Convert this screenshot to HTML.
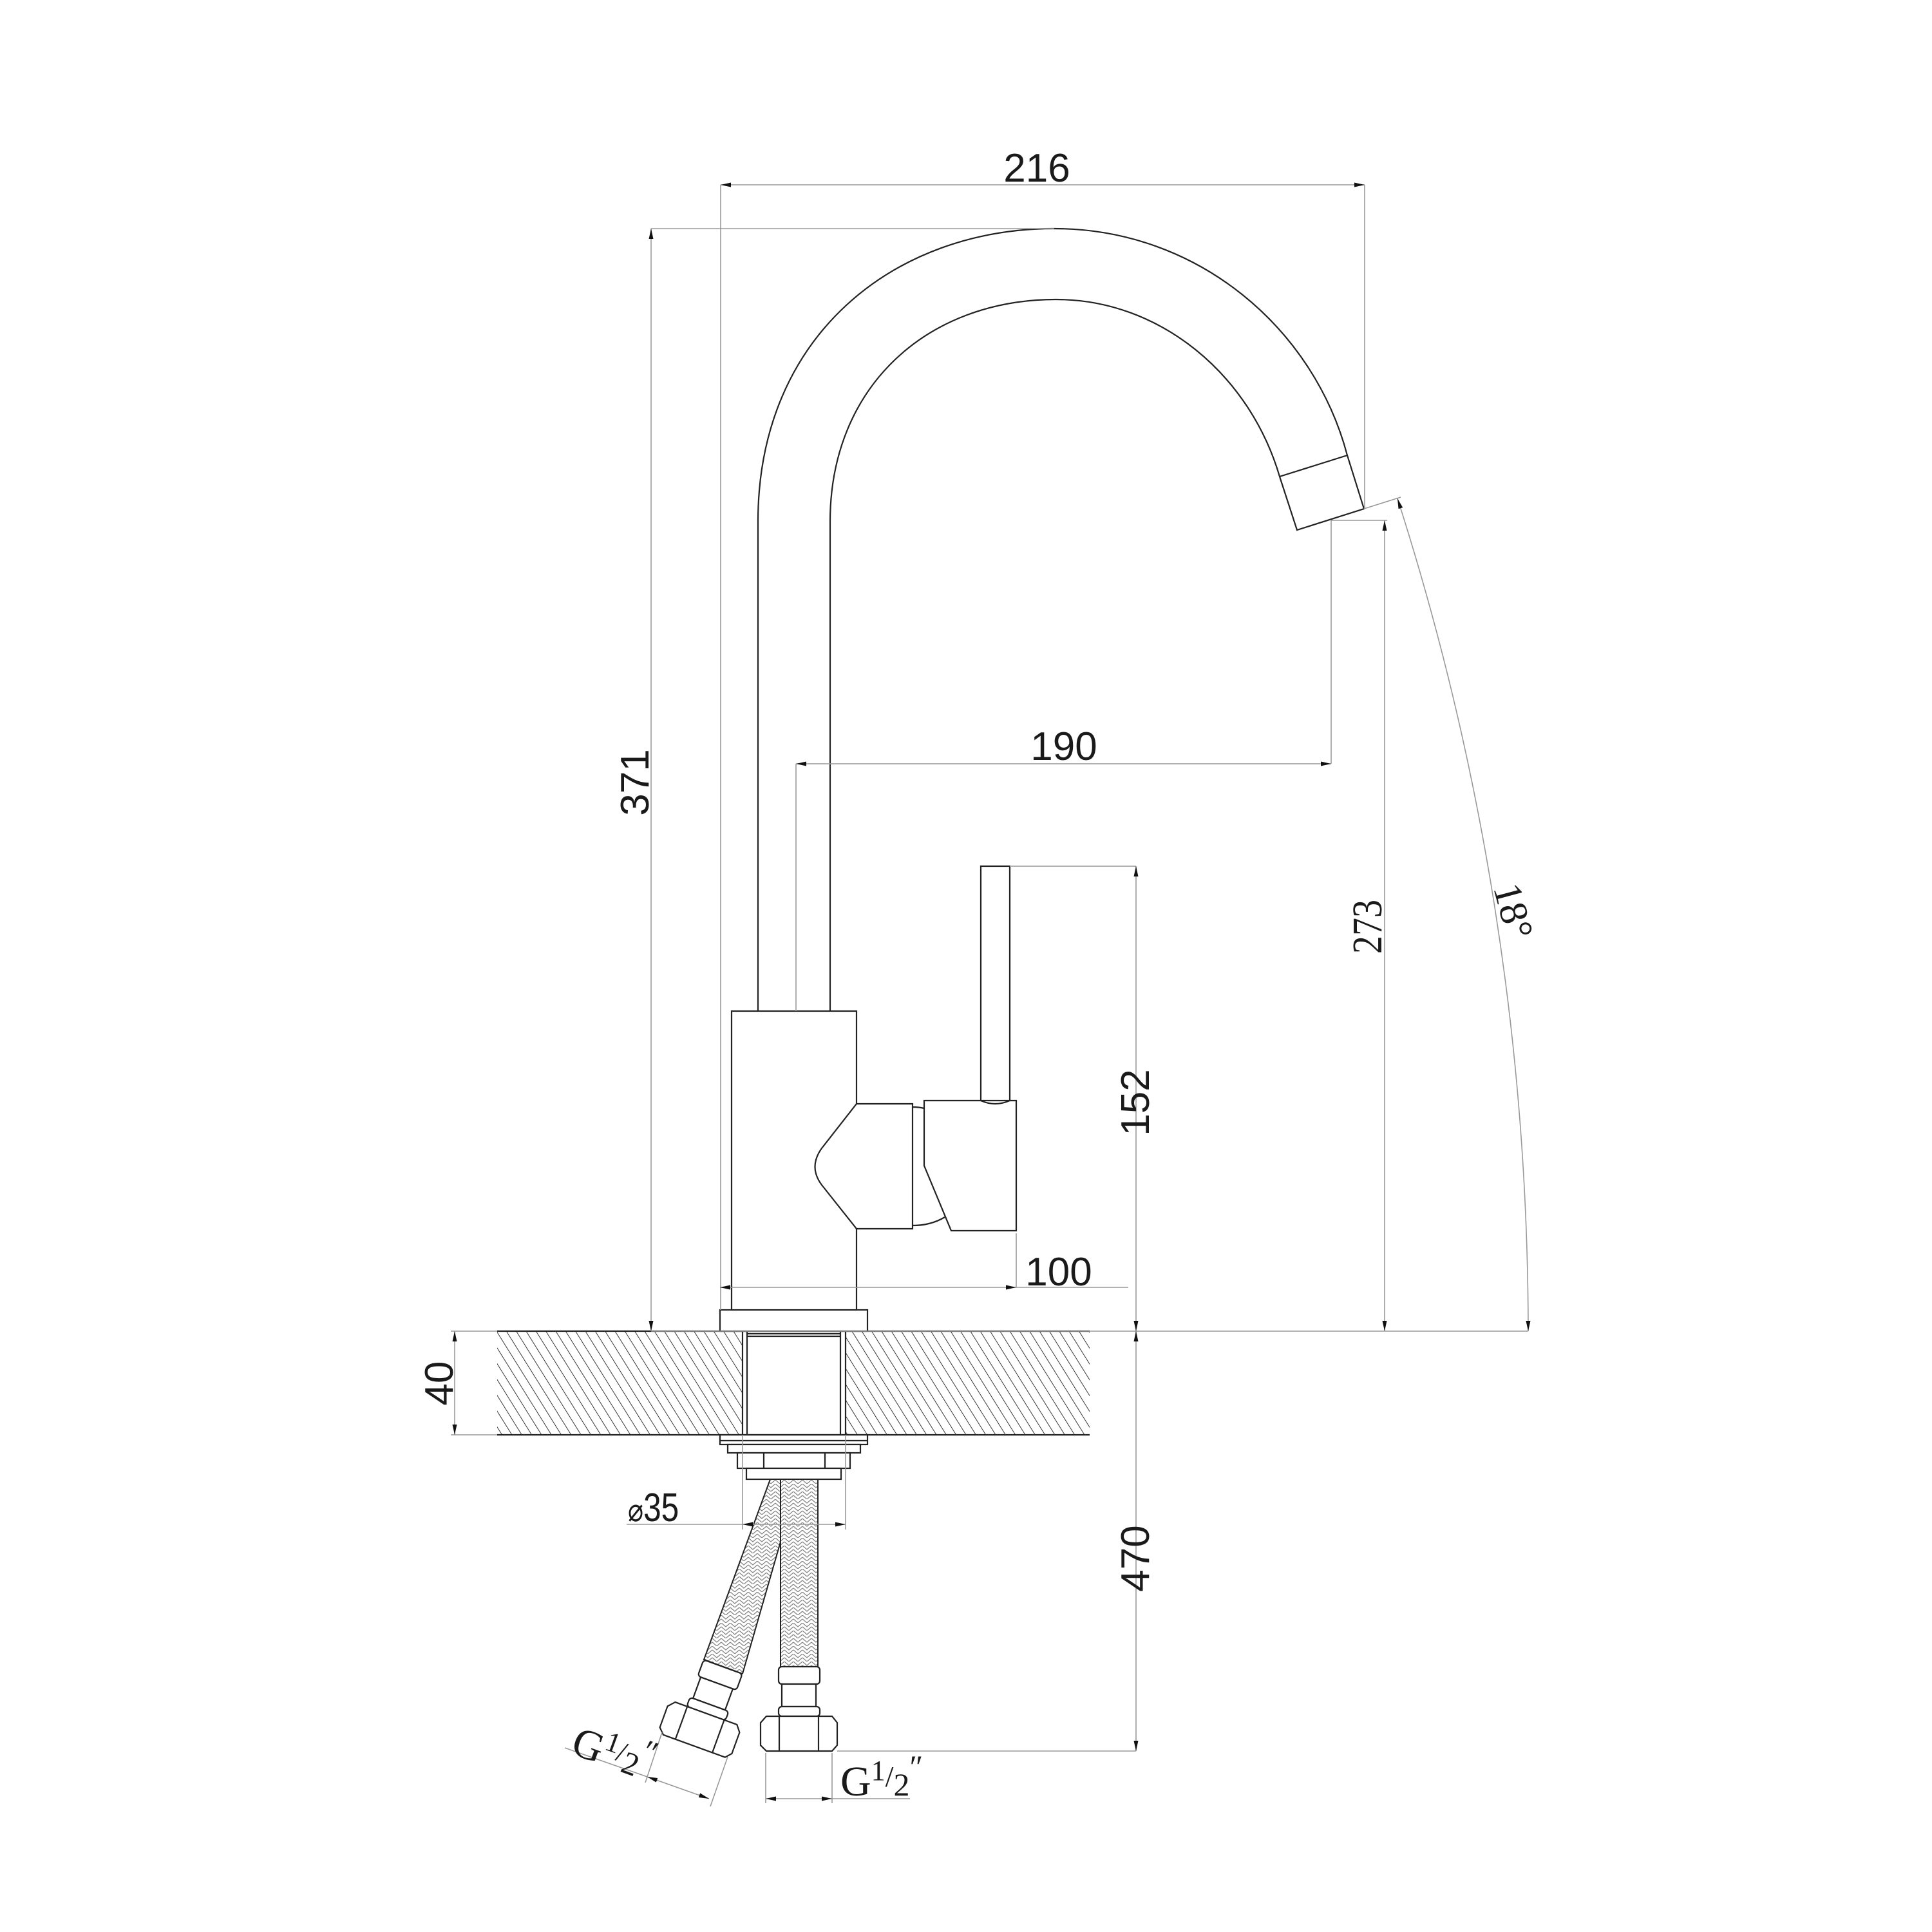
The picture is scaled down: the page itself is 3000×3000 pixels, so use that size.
<!DOCTYPE html>
<html><head><meta charset="utf-8"><style>
html,body{margin:0;padding:0;background:#fff;}
svg{display:block;}
.o{stroke:#222;stroke-width:2.2;fill:none;}
.of{stroke:#222;stroke-width:2.2;fill:#fff;}
.d{stroke:#999;stroke-width:1.6;fill:none;}
.t{font-family:"Liberation Sans",sans-serif;font-size:62px;fill:#1a1a1a;}
.s{font-family:"Liberation Serif",serif;fill:#1a1a1a;}
</style></head><body>
<svg width="3000" height="3000" viewBox="0 0 3000 3000" xmlns="http://www.w3.org/2000/svg">
<defs>
<marker id="a" markerUnits="userSpaceOnUse" markerWidth="16" markerHeight="8" refX="16" refY="4" orient="auto-start-reverse"><path d="M0,0.5 L16,4 L0,7.5z" fill="#111"/></marker>
<pattern id="h" patternUnits="userSpaceOnUse" width="13" height="40" patternTransform="rotate(-32)"><line x1="0" y1="0" x2="0" y2="40" stroke="#222" stroke-width="1.8"/></pattern>
<pattern id="b" patternUnits="userSpaceOnUse" width="14" height="12"><path d="M0,0 L7,6 L14,0 M0,6 L7,12 L14,6" stroke="#888" stroke-width="1.3" fill="none"/></pattern>
<g id="fit">
<rect x="1209" y="2588" width="64" height="27" rx="5" class="of"/>
<rect x="1214" y="2615" width="53" height="35" class="of"/>
<rect x="1209" y="2650" width="64" height="15" rx="5" class="of"/>
<path d="M1190,2665 L1292,2665 L1300,2675 L1300,2710 L1292,2719 L1190,2719 L1181,2710 L1181,2675z" class="of"/>
<path d="M1210,2665 L1210,2719 M1271,2665 L1271,2719" class="o" stroke-width="1.6"/>
</g>
</defs>

<rect x="772" y="2067" width="920" height="161" fill="url(#h)"/>
<rect x="1153" y="2067" width="160" height="161" fill="#fff"/>
<line x1="772" y1="2067" x2="1692" y2="2067" class="o" stroke-width="1.8"/>
<line x1="772" y1="2228" x2="1692" y2="2228" class="o" stroke-width="1.8"/>
<path d="M1153,2067 V2228 M1160,2067 V2228 M1305,2067 V2228 M1313,2067 V2228 M1160,2071 H1305 M1160,2075 H1305" class="o" stroke-width="1.6"/>

<rect x="1118" y="2228" width="229" height="15" class="of"/>
<line x1="1118" y1="2237" x2="1347" y2="2237" class="o" stroke-width="1.5"/>
<rect x="1130" y="2243" width="206" height="13" class="of"/>
<rect x="1145" y="2256" width="175" height="24" class="of"/>
<path d="M1186,2256 V2280 M1281,2256 V2280" class="o" stroke-width="1.5"/>
<rect x="1159" y="2280" width="147" height="17" class="of"/>

<polygon points="1196,2297 1240,2297 1153,2599 1093,2577" fill="#fff"/>
<polygon points="1196,2297 1240,2297 1153,2599 1093,2577" fill="url(#b)" stroke="#222" stroke-width="2"/>
<use href="#fit" transform="translate(-141,-25) rotate(20,1181,2665)"/>
<rect x="1212" y="2297" width="58" height="291" fill="#fff"/>
<rect x="1212" y="2297" width="58" height="291" fill="url(#b)" stroke="#222" stroke-width="2"/>
<use href="#fit"/>

<rect x="1118" y="2034" width="229" height="33" class="of"/>
<rect x="1136" y="1570" width="194" height="464" class="of"/>
<path d="M1330,1714 H1417 V1908 H1330 L1276,1840 Q1255,1812 1276,1783 Z" class="of"/>
<path d="M1417,1719 Q1427,1719 1435,1721 M1417,1903 Q1445,1903 1467,1890" class="o" stroke-width="1.8"/>
<path d="M1435,1709 H1523 Q1545,1719 1568,1709 H1578 V1911 H1477 L1435,1810 Z" class="of"/>
<rect x="1523" y="1345" width="45" height="364" class="of"/>

<path d="M1177,1570 L1177,810 C1177,520 1390,355 1637,355 C1860,355 2040,510 2092,707 L2118,790 L2014,823 L1987,740 C1940,580 1800,465 1640,465 C1440,465 1289,600 1289,810 L1289,1570" class="o"/>
<line x1="1987" y1="740" x2="2092" y2="707" class="o"/>

<g class="d">
<line x1="1119" y1="287" x2="2119" y2="287" marker-start="url(#a)" marker-end="url(#a)"/>
<line x1="1119" y1="287" x2="1119" y2="2034"/>
<line x1="2119" y1="287" x2="2119" y2="790"/>
<line x1="1011" y1="355" x2="1637" y2="355"/>
<line x1="1011" y1="355" x2="1011" y2="2067" marker-start="url(#a)" marker-end="url(#a)"/>
<line x1="1236" y1="1186" x2="2067" y2="1186" marker-start="url(#a)" marker-end="url(#a)"/>
<line x1="1236" y1="1186" x2="1236" y2="1570"/>
<line x1="2067" y1="808" x2="2067" y2="1186"/>
<line x1="2067" y1="808" x2="2154" y2="808"/>
<line x1="2150" y1="808" x2="2150" y2="2067" marker-start="url(#a)" marker-end="url(#a)"/>
<line x1="2118" y1="790" x2="2175" y2="772"/>
<path d="M2170,774 A4245,4245 0 0 1 2373,2067" marker-start="url(#a)" marker-end="url(#a)"/>
<line x1="1011" y1="2067" x2="2373" y2="2067"/>
<line x1="1118" y1="1999" x2="1578" y2="1999" marker-start="url(#a)" marker-end="url(#a)"/>
<line x1="1578" y1="1999" x2="1752" y2="1999"/>
<line x1="1578" y1="1915" x2="1578" y2="1999"/>
<line x1="1568" y1="1345" x2="1764" y2="1345"/>
<line x1="1764" y1="1345" x2="1764" y2="2067" marker-start="url(#a)" marker-end="url(#a)"/>
<line x1="1764" y1="2067" x2="1764" y2="2719" marker-start="url(#a)" marker-end="url(#a)"/>
<line x1="1300" y1="2719" x2="1764" y2="2719"/>
<line x1="700" y1="2067" x2="772" y2="2067"/>
<line x1="700" y1="2228" x2="772" y2="2228"/>
<line x1="706" y1="2067" x2="706" y2="2228" marker-start="url(#a)" marker-end="url(#a)"/>
<line x1="1153" y1="2228" x2="1153" y2="2375"/>
<line x1="1313" y1="2228" x2="1313" y2="2375"/>
<line x1="973" y1="2367" x2="1153" y2="2367"/>
<line x1="1153" y1="2367" x2="1313" y2="2367" marker-start="url(#a)" marker-end="url(#a)"/>
<line x1="1189" y1="2722" x2="1189" y2="2800"/>
<line x1="1292" y1="2722" x2="1292" y2="2800"/>
<line x1="1189" y1="2793" x2="1292" y2="2793" marker-start="url(#a)" marker-end="url(#a)"/>
<line x1="1292" y1="2793" x2="1413" y2="2793"/>
<line x1="1028" y1="2690" x2="1002" y2="2768"/>
<line x1="1130" y1="2728" x2="1103" y2="2805"/>
<line x1="1005" y1="2759" x2="1101" y2="2793" marker-start="url(#a)" marker-end="url(#a)"/>
<line x1="1005" y1="2759" x2="877" y2="2714"/>
</g>

<text class="t" x="1610" y="282" text-anchor="middle">216</text>
<text class="t" x="1652" y="1180" text-anchor="middle">190</text>
<text class="t" x="1644" y="1996" text-anchor="middle">100</text>
<text class="t" text-anchor="middle" transform="translate(1007,1215) rotate(-90)">371</text>
<text class="t" text-anchor="middle" transform="translate(1784,1712) rotate(-90)">152</text>
<text class="t" text-anchor="middle" transform="translate(1784,2420) rotate(-90)">470</text>
<text class="t" text-anchor="middle" transform="translate(703,2148) rotate(-90)">40</text>
<text class="s" font-size="66" text-anchor="middle" transform="translate(2145,1439) rotate(-90) scale(0.85,1)">273</text>
<text class="s" font-size="62" text-anchor="middle" transform="translate(2330,1420) rotate(75)">18°</text>
<text class="t" font-size="62" transform="translate(975,2362) scale(0.8,1)"><tspan font-size="50">⌀</tspan>35</text>
<text class="s" font-size="66" transform="translate(1305,2788)">G<tspan font-size="44" dy="-24">1</tspan><tspan font-size="46" dy="10">/</tspan><tspan font-size="50" dy="14">2</tspan><tspan font-size="50" dy="-28">″</tspan></text>
<text class="s" font-size="66" transform="translate(884,2722) rotate(20)">G<tspan font-size="44" dy="-24">1</tspan><tspan font-size="46" dy="10">/</tspan><tspan font-size="50" dy="14">2</tspan><tspan font-size="50" dy="-28">″</tspan></text>
</svg>
</body></html>
